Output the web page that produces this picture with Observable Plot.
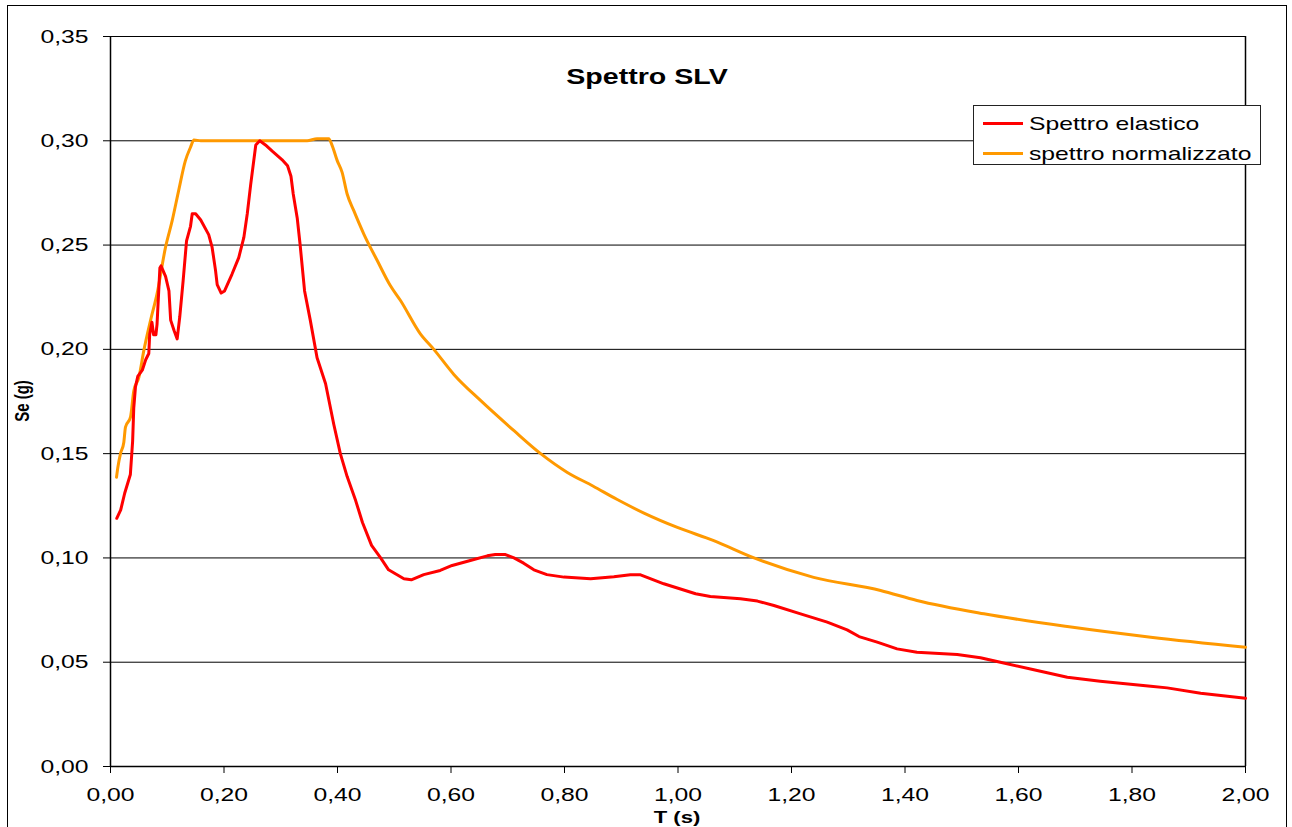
<!DOCTYPE html>
<html>
<head>
<meta charset="utf-8">
<script src="https://cdn.jsdelivr.net/npm/d3@7"></script>
<script src="https://cdn.jsdelivr.net/npm/@observablehq/plot@0.6"></script>
<style>
  html, body { margin: 0; padding: 0; background: white; }
  #wrap { position: relative; width: 1292px; height: 827px; overflow: hidden; background: white; font-family: "Liberation Sans", Arial, sans-serif; color: black; }
  #wrap svg { position: absolute; left: 0; top: 0; }
  .ov { position: absolute; white-space: nowrap; line-height: 1; }
</style>
</head>
<body>
<div id="wrap"></div>
<script>
// ---- Data ----
const chartTitle = "Spettro SLV";
const xLabel = "T (s)";
const yLabel = "Se (g)";
const seriesNames = ["Spettro elastico", "spettro normalizzato"];
const seriesColors = ["#FF0000", "#FF9900"];

const xTicks = [0, 0.2, 0.4, 0.6, 0.8, 1.0, 1.2, 1.4, 1.6, 1.8, 2.0];
const yTicks = [0, 0.05, 0.10, 0.15, 0.20, 0.25, 0.30, 0.35];

const elasticT = [0.011, 0.018, 0.025, 0.035, 0.039, 0.041, 0.044, 0.048, 0.056, 0.062, 0.0675, 0.069, 0.073, 0.076, 0.080, 0.082, 0.087, 0.089, 0.097, 0.103, 0.106, 0.112, 0.1175, 0.122, 0.128, 0.134, 0.141, 0.144, 0.150, 0.159, 0.173, 0.179, 0.185, 0.188, 0.195, 0.201, 0.214, 0.226, 0.235, 0.241, 0.247, 0.256, 0.263, 0.273, 0.285, 0.302, 0.312, 0.318, 0.322, 0.329, 0.334, 0.342, 0.352, 0.364, 0.379, 0.3935, 0.405, 0.417, 0.432, 0.444, 0.460, 0.476, 0.490, 0.517, 0.530, 0.552, 0.581, 0.602, 0.634, 0.664, 0.678, 0.696, 0.711, 0.728, 0.746, 0.769, 0.799, 0.846, 0.887, 0.916, 0.934, 0.975, 1.031, 1.057, 1.110, 1.140, 1.169, 1.216, 1.263, 1.298, 1.319, 1.351, 1.386, 1.421, 1.492, 1.533, 1.568, 1.627, 1.686, 1.744, 1.833, 1.862, 1.921, 2.000];
const elasticSe = [0.119, 0.123, 0.131, 0.140, 0.156, 0.172, 0.182, 0.187, 0.190, 0.195, 0.198, 0.207, 0.213, 0.207, 0.207, 0.212, 0.239, 0.240, 0.235, 0.228, 0.214, 0.209, 0.205, 0.2155, 0.233, 0.252, 0.259, 0.265, 0.265, 0.262, 0.255, 0.249, 0.238, 0.231, 0.227, 0.228, 0.236, 0.244, 0.2537, 0.265, 0.279, 0.298, 0.300, 0.298, 0.295, 0.291, 0.288, 0.283, 0.2745, 0.263, 0.2505, 0.228, 0.214, 0.196, 0.1835, 0.164, 0.150, 0.139, 0.1275, 0.117, 0.106, 0.100, 0.0943, 0.090, 0.0895, 0.092, 0.094, 0.0964, 0.0988, 0.101, 0.1016, 0.1016, 0.100, 0.0975, 0.0943, 0.092, 0.0908, 0.090, 0.091, 0.0919, 0.0919, 0.0876, 0.0828, 0.0815, 0.0804, 0.0793, 0.0772, 0.0732, 0.0692, 0.0655, 0.0623, 0.0596, 0.0564, 0.0548, 0.0537, 0.0521, 0.050, 0.0464, 0.0428, 0.0409, 0.0385, 0.0377, 0.0351, 0.0327];

const normT = [0.0106, 0.013, 0.0176, 0.0235, 0.0264, 0.0352, 0.041, 0.050, 0.0587, 0.0705, 0.082, 0.097, 0.1087, 0.120, 0.132, 0.141, 0.147, 0.159, 0.250, 0.3465, 0.364, 0.3846, 0.3906, 0.3995, 0.408, 0.417, 0.4287, 0.4464, 0.470, 0.493, 0.511, 0.546, 0.5697, 0.605, 0.652, 0.711, 0.758, 0.805, 0.850, 0.893, 0.940, 1.000, 1.063, 1.134, 1.239, 1.357, 1.421, 1.539, 1.686, 1.833, 2.000];
const normSe = [0.1387, 0.1435, 0.150, 0.1555, 0.1627, 0.1675, 0.180, 0.1866, 0.1994, 0.2138, 0.2266, 0.249, 0.2617, 0.276, 0.2905, 0.2969, 0.3004, 0.300, 0.300, 0.300, 0.301, 0.301, 0.2977, 0.2905, 0.285, 0.2745, 0.2665, 0.2553, 0.2426, 0.2306, 0.2234, 0.2074, 0.200, 0.188, 0.1755, 0.161, 0.150, 0.141, 0.1345, 0.128, 0.1215, 0.1145, 0.1083, 0.100, 0.0907, 0.0844, 0.0796, 0.0732, 0.0671, 0.062, 0.0572];

// ---- Build tables ----
const elastic = elasticT.map((t, i) => ({T: t, Se: elasticSe[i]}));
const normal = normT.map((t, i) => ({T: t, Se: normSe[i]}));
const fmt = d => d3.format(".2f")(d).replace(".", ",");
const STRETCH = 1.3;

const W = 1292, H = 827;
const chart = Plot.plot({
  width: W, height: H,
  marginLeft: 110, marginRight: 47, marginTop: 36, marginBottom: 61,
  style: {fontFamily: '"Liberation Sans", Arial, sans-serif', fontSize: "19px", color: "black", background: "transparent", overflow: "visible"},
  x: {domain: [0, 2], ticks: xTicks, tickFormat: fmt, tickSize: 7, tickPadding: 14, label: null},
  y: {domain: [0, 0.35], ticks: yTicks, tickFormat: fmt, tickSize: 7, tickPadding: 15, label: null},
  marks: [
    Plot.ruleY(yTicks, {stroke: "black", strokeWidth: 1}),
    Plot.ruleX([xTicks[0]], {stroke: "black", strokeWidth: 1.5}),
    Plot.ruleX([xTicks[xTicks.length - 1]], {stroke: "black", strokeWidth: 1.5}),
    Plot.ruleY([0], {stroke: "black", strokeWidth: 1.5}),
    Plot.line(normal, {x: "T", y: "Se", stroke: seriesColors[1], strokeWidth: 3, strokeLinejoin: "round", curve: "monotone-x"}),
    Plot.line(elastic, {x: "T", y: "Se", stroke: seriesColors[0], strokeWidth: 3, strokeLinejoin: "round"})
  ]
});

const wrap = document.getElementById("wrap");
wrap.appendChild(chart);

// horizontally stretch tick labels (the reference is rendered wide)
chart.querySelectorAll("text").forEach(t => {
  const len = t.getComputedTextLength();
  if (len > 0) {
    t.setAttribute("textLength", (len * STRETCH).toFixed(2));
    t.setAttribute("lengthAdjust", "spacingAndGlyphs");
  }
});

// outer frame
const frame = document.createElement("div");
frame.style.cssText = "position:absolute;left:7px;top:5px;width:1280px;height:900px;border:1.5px solid black;box-sizing:border-box;pointer-events:none;";
wrap.appendChild(frame);

function overlay(text, css) {
  const d = document.createElement("div");
  d.className = "ov";
  d.textContent = text;
  d.style.cssText += css;
  wrap.appendChild(d);
  return d;
}

// title
overlay(chartTitle, `left:647px;top:77px;font-weight:bold;font-size:22px;transform:translate(-50%,-50%) scaleX(${STRETCH});`);
// axis titles
overlay(xLabel, `left:677px;top:817px;font-weight:bold;font-size:17px;transform:translate(-50%,-50%) scaleX(${STRETCH});`);
overlay(yLabel, `left:22px;top:401px;font-weight:bold;font-size:15px;transform:translate(-50%,-50%) scaleX(${STRETCH}) rotate(-90deg);`);

// legend
const leg = document.createElement("div");
leg.style.cssText = "position:absolute;left:973px;top:105px;width:288px;height:60px;border:1px solid #222;background:white;box-sizing:border-box;";
wrap.appendChild(leg);
seriesNames.forEach((name, i) => {
  const cy = 17 + i * 30;
  const sw = document.createElement("div");
  sw.style.cssText = `position:absolute;left:9px;top:${cy - 1.5}px;width:40px;height:3px;background:${seriesColors[i]};`;
  leg.appendChild(sw);
  const tx = document.createElement("div");
  tx.className = "ov";
  tx.textContent = name;
  tx.style.cssText += `left:55px;top:${cy}px;font-size:19px;transform-origin:0 50%;transform:translateY(-50%) scaleX(${STRETCH});`;
  leg.appendChild(tx);
});
</script>
</body>
</html>
